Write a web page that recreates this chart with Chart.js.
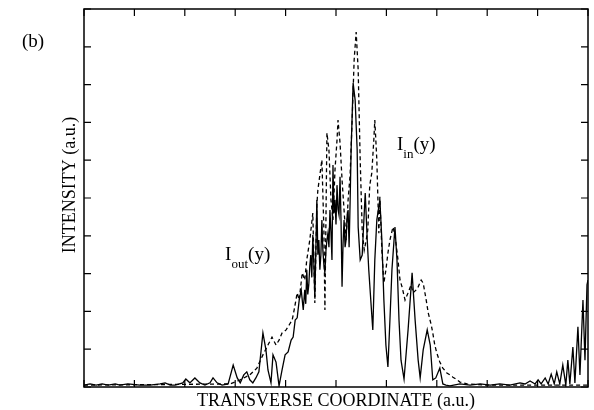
<!DOCTYPE html>
<html>
<head>
<meta charset="utf-8">
<script src="https://cdn.jsdelivr.net/npm/chart.js@4/dist/chart.umd.min.js"></script>
<style>
	html, body { margin: 0; padding: 0; background: #fff; }
	#wrap { width: 594px; height: 410px; }
</style>
</head>
<body>
<div id="wrap"><canvas id="myChart" width="594" height="410"></canvas></div>
<script>

// I_out(y), solid line
var outX = [0, 0.12, 0.24, 0.36, 0.48, 0.62, 0.71, 0.87, 1.11, 1.31, 1.51, 1.61, 1.71, 1.81, 1.96, 2.02, 2.10, 2.20, 2.30, 2.40, 2.50, 2.56, 2.64, 2.74, 2.86,
	2.96, 3.04, 3.10, 3.17, 3.23, 3.29, 3.35, 3.41, 3.47, 3.55, 3.61, 3.65, 3.71, 3.75, 3.81, 3.87, 3.93, 3.99, 4.05, 4.11, 4.15, 4.19, 4.23, 4.27, 4.31,
	4.35, 4.38, 4.40, 4.42, 4.44, 4.46, 4.48, 4.50, 4.52, 4.54, 4.56, 4.58, 4.60, 4.62, 4.64, 4.66, 4.68, 4.70, 4.72, 4.74, 4.76, 4.78, 4.80, 4.82, 4.84,
	4.86, 4.88, 4.90, 4.92, 4.94, 4.96, 4.98, 5.00, 5.02, 5.04, 5.06, 5.08, 5.10, 5.12, 5.14, 5.16, 5.18, 5.20, 5.22, 5.24, 5.26, 5.28, 5.30, 5.34, 5.38,
	5.42, 5.44, 5.48, 5.52, 5.54, 5.58, 5.62, 5.65, 5.69, 5.73, 5.77, 5.81, 5.87, 5.91, 5.95, 5.99, 6.03, 6.07, 6.11, 6.17,
	6.21, 6.25, 6.29, 6.35, 6.43, 6.51, 6.57, 6.63, 6.67, 6.73, 6.81, 6.87, 6.92, 6.98, 7.06, 7.12, 7.18, 7.26, 7.46, 7.66, 7.86, 8.06, 8.25, 8.45, 8.65,
	8.75, 8.85, 8.95, 9.01, 9.07, 9.15, 9.21, 9.27, 9.33, 9.38, 9.44, 9.50, 9.56, 9.60, 9.64, 9.70, 9.74, 9.80, 9.84, 9.90, 9.94, 9.98, 10.0];
var outY = [0.05, 0.08, 0.05, 0.08, 0.05, 0.08, 0.05, 0.08, 0.05, 0.05, 0.08, 0.11, 0.05, 0.05, 0.11, 0.21, 0.11, 0.24, 0.11, 0.05, 0.11, 0.24, 0.11, 0.05, 0.08,
	0.58, 0.24, 0.11, 0.32, 0.40, 0.19, 0.11, 0.24, 0.40, 1.43, 0.98, 0.45, 0.11, 0.85, 0.66, 0.03, 0.45, 0.85, 0.93, 1.24, 1.32, 1.77, 1.83, 2.30, 2.57,
	2.04, 2.57, 2.20, 3.10, 2.45, 2.70, 3.20, 3.49, 2.90, 4.02, 3.30, 2.38, 3.60, 4.95, 3.50, 3.89, 3.10, 3.49, 4.42, 3.60, 3.23, 3.02, 3.60, 3.89, 4.07,
	3.70, 4.68, 4.10, 3.36, 5.87, 4.60, 4.95, 4.30, 5.34, 4.70, 4.55, 5.56, 4.40, 2.65, 3.80, 4.42, 3.70, 3.89, 4.50, 4.68, 3.70, 4.90, 6.27, 8.04, 7.59,
	6.27, 4.23, 3.36, 3.49, 4.07, 5.13, 3.89, 3.10, 2.30, 1.51, 3.36, 4.42, 4.95, 3.89, 2.30, 1.11, 0.53, 1.77, 3.10, 4.23,
	3.36, 1.77, 0.71, 0.21, 1.51, 3.02, 1.77, 0.71, 0.24, 0.98, 1.51, 1.11, 0.19, 0.24, 0.50, 0.08, 0.05, 0.03, 0.08, 0.05, 0.08, 0.05, 0.08, 0.05, 0.11,
	0.08, 0.16, 0.08, 0.19, 0.08, 0.24, 0.08, 0.34, 0.08, 0.40, 0.08, 0.58, 0.05, 0.71, 0.08, 1.06, 0.11, 1.59, 0.32, 2.30, 0.71, 2.70, 2.83];

// I_in(y), dashed line
var inX = [0, 2.90, 3.10, 3.29, 3.43, 3.55, 3.65, 3.73, 3.81, 3.87, 3.93, 4.01, 4.07, 4.13, 4.17, 4.23, 4.27, 4.33, 4.38, 4.42, 4.48, 4.54, 4.58, 4.62,
	4.64, 4.68, 4.72, 4.76, 4.78, 4.82, 4.86, 4.90, 4.94, 4.98, 5.02, 5.04, 5.08, 5.12, 5.16, 5.20, 5.24, 5.28, 5.32, 5.36, 5.40, 5.44, 5.48, 5.52, 5.56,
	5.60, 5.63, 5.67, 5.71, 5.75, 5.77, 5.81, 5.85, 5.87, 5.91, 5.95, 5.99, 6.03, 6.07, 6.13, 6.17, 6.23, 6.27, 6.31, 6.37, 6.43, 6.49, 6.53, 6.59, 6.63,
	6.69, 6.73, 6.79, 6.83, 6.89, 6.92, 6.96, 7.00, 7.06, 7.12, 7.20, 7.26, 7.32, 7.40, 7.46, 7.60, 8.0, 9.0, 10.0];
var inY = [0.05, 0.08, 0.19, 0.32, 0.50, 0.85, 1.11, 1.32, 1.11, 1.24, 1.43, 1.51, 1.64, 1.77, 2.04, 2.49, 2.30, 3.02, 2.83, 3.36, 3.89, 4.60, 2.22, 4.81,
	5.21, 5.61, 6.01, 4.15, 2.04, 6.72, 6.27, 4.95, 4.42, 5.74, 6.53, 7.06, 6.46, 5.48, 4.68, 3.89, 4.95, 5.61, 7.06, 8.65, 9.39, 8.39, 6.01, 4.15, 3.62,
	3.89, 4.15, 5.34, 5.66, 6.53, 7.06, 6.01, 4.07, 5.03, 3.62, 2.75, 3.10, 3.54, 3.89, 4.23, 4.02, 3.36, 2.83, 2.65, 2.30, 2.49, 2.70, 2.49, 2.57, 2.65,
	2.83, 2.75, 2.30, 1.96, 1.64, 1.43, 1.11, 0.90, 0.66, 0.50, 0.37, 0.32, 0.26, 0.19, 0.13, 0.08, 0.05, 0.05, 0.05];

var xTicks = [0, 1, 2, 3, 4, 5, 6, 7, 8, 9, 10];
var yTicks = [0, 1, 2, 3, 4, 5, 6, 7, 8, 9, 10];

function toPoints(xs, ys) {
	return xs.map(function(x, i) { return { x: x, y: ys[i] }; });
}

var serif = "'Liberation Serif', 'DejaVu Serif', serif";

// box, inward ticks, y title and the in-plot labels
var frame = {
	id: 'frame',
	afterDatasetsDraw: function(chart) {
		var ctx = chart.ctx;
		var a = chart.chartArea;
		var xs = chart.scales.x, ys = chart.scales.y;
		ctx.save();
		ctx.strokeStyle = '#000';
		ctx.lineWidth = 1.5;
		ctx.strokeRect(a.left, a.top, a.right - a.left, a.bottom - a.top);

		ctx.lineWidth = 1.2;
		ctx.beginPath();
		xTicks.forEach(function(v) {
			var px = xs.getPixelForValue(v);
			ctx.moveTo(px, a.top); ctx.lineTo(px, a.top + 7);
			ctx.moveTo(px, a.bottom); ctx.lineTo(px, a.bottom - 7);
		});
		yTicks.forEach(function(v) {
			var py = ys.getPixelForValue(v);
			ctx.moveTo(a.left, py); ctx.lineTo(a.left + 7, py);
			ctx.moveTo(a.right, py); ctx.lineTo(a.right - 7, py);
		});
		ctx.stroke();

		ctx.fillStyle = '#000';

		// y axis title, a bit above the middle as in the figure
		ctx.save();
		ctx.translate(70, 185);
		ctx.rotate(-Math.PI / 2);
		ctx.font = '18px ' + serif;
		ctx.textAlign = 'center';
		ctx.textBaseline = 'middle';
		ctx.fillText('INTENSITY (a.u.)', 0, 0);
		ctx.restore();

		ctx.textBaseline = 'alphabetic';
		function subLabel(sub, xv, yv) {
			var x = xs.getPixelForValue(xv), y = ys.getPixelForValue(yv);
			ctx.font = '19px ' + serif;
			ctx.fillText('I', x, y);
			x += ctx.measureText('I').width;
			ctx.font = '13px ' + serif;
			ctx.fillText(sub, x, y + 8);
			x += ctx.measureText(sub).width;
			ctx.font = '19px ' + serif;
			ctx.fillText('(y)', x, y);
		}
		subLabel('out', 2.80, 3.36);
		subLabel('in', 6.21, 6.27);

		ctx.font = '19px ' + serif;
		ctx.fillText('(b)', 22, 47);
		ctx.restore();
	}
};

var ctx = document.getElementById('myChart');

var data = {
	datasets: [
		{
			label: 'I_out(y)',
			data: toPoints(outX, outY),
			borderColor: '#000',
			borderWidth: 1.3,
			pointRadius: 0,
			tension: 0
		},
		{
			label: 'I_in(y)',
			data: toPoints(inX, inY),
			borderColor: '#000',
			borderWidth: 1.3,
			borderDash: [4, 3],
			pointRadius: 0,
			tension: 0
		}
	]
};

var options = {
	responsive: false,
	animation: false,
	layout: { padding: { top: 9, right: 6, left: 0, bottom: 0 } },
	plugins: {
		legend: { display: false },
		tooltip: { enabled: false }
	},
	scales: {
		x: {
			type: 'linear',
			min: 0,
			max: 10,
			grid: { display: false },
			border: { display: false },
			ticks: { display: false, stepSize: 1 },
			title: { display: true, text: 'TRANSVERSE COORDINATE (a.u.)', color: '#000', font: { family: serif, size: 18, lineHeight: 1 }, padding: 0 },
			afterFit: function(s) { s.height = 23; }
		},
		y: {
			min: 0,
			max: 10,
			grid: { display: false },
			border: { display: false },
			ticks: { display: false, stepSize: 1 },
			title: { display: false },
			afterFit: function(s) { s.width = 84; }
		}
	}
};

new Chart(ctx, {
	type: 'line',
	data: data,
	options: options,
	plugins: [frame]
});

</script>
</body>
</html>
